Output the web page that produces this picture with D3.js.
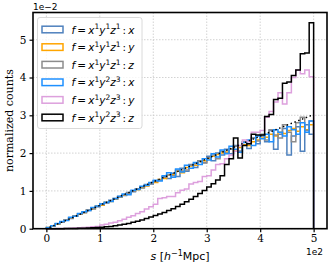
<!DOCTYPE html>
<html lang="en">
<head>
<meta charset="utf-8">
<title>pair separation histograms</title>
<script src="https://cdn.jsdelivr.net/npm/d3@7"></script>
<style>
  body { margin: 0; background: #fff; }
  svg text { fill: #000; }
</style>
</head>
<body>
<script>
    // histogram heights (units of 1e-2), 60 bins over 0..500 h^-1 Mpc
    var n_bins = 60;
    var s_max = 500;

    var x1y1z1_x = [0.02,0.08,0.13,0.18,0.24,0.27,0.34,0.38,0.44,0.48,0.55,0.58,
        0.65,0.68,0.75,0.78,0.86,0.88,0.96,0.98,1.06,1.08,1.17,1.18,
        1.27,1.29,1.38,1.33,1.47,1.38,1.60,1.52,1.70,1.62,1.80,1.75,
        1.92,1.80,2.00,1.95,2.10,1.98,2.20,2.05,2.30,2.12,2.40,2.25,
        2.45,2.30,2.60,2.10,2.50,2.65,1.95,2.45,2.70,2.05,2.75,2.50];
    var x1y1z1_y = [0.03,0.07,0.12,0.18,0.23,0.29,0.33,0.38,0.43,0.49,0.53,0.60,
        0.62,0.70,0.72,0.79,0.83,0.89,0.93,1.00,1.03,1.09,1.13,1.20,
        1.22,1.30,1.33,1.42,1.43,1.52,1.48,1.62,1.66,1.68,1.78,1.80,
        1.85,1.92,1.96,2.00,2.03,2.10,2.05,2.15,2.22,2.20,2.30,2.35,
        2.40,2.42,2.50,2.45,2.55,2.52,2.60,2.65,2.58,2.70,2.62,2.75];
    var x1y1z1_z = [0.02,0.08,0.13,0.17,0.24,0.28,0.33,0.39,0.42,0.50,0.52,0.59,
        0.64,0.69,0.74,0.80,0.84,0.90,0.94,0.99,1.05,1.10,1.14,1.19,
        1.25,1.28,1.36,1.42,1.40,1.55,1.52,1.55,1.68,1.72,1.78,1.74,
        1.88,1.95,1.85,2.05,2.00,2.10,2.18,2.05,2.30,2.25,2.40,2.32,
        2.50,2.35,2.62,2.48,2.40,2.75,2.55,2.30,2.80,2.95,2.60,2.85];
    var x1y2z3_x = [0.03,0.08,0.14,0.19,0.22,0.30,0.33,0.40,0.45,0.48,0.56,0.60,
        0.66,0.70,0.72,0.80,0.85,0.92,0.90,1.02,1.04,1.12,1.15,1.22,
        1.28,1.26,1.40,1.48,1.36,1.58,1.50,1.68,1.60,1.75,1.70,1.85,
        1.82,1.98,1.90,2.08,1.98,2.18,2.10,2.02,2.28,2.35,2.20,2.45,
        2.38,2.50,2.30,2.62,2.55,2.45,2.70,2.62,2.50,2.80,2.55,2.85];
    var x1y2z3_y = [0,0,0.002,0.005,0.008,0.012,0.017,0.023,0.03,0.04,0.05,0.06,
        0.10,0.12,0.15,0.17,0.21,0.25,0.30,0.34,0.40,0.45,0.52,0.58,
        0.65,0.80,0.82,0.85,0.85,0.95,1.02,1.05,1.18,1.22,1.25,1.38,
        1.40,1.55,1.70,1.72,1.85,1.95,2.05,2.20,2.35,2.30,2.55,2.55,
        2.60,2.95,3.10,3.35,3.60,3.30,3.60,4.00,4.20,4.10,4.20,4.02];
    var x1y2z3_z = [0,0,0,0.001,0.002,0.004,0.006,0.009,0.013,0.018,0.024,0.031,
        0.04,0.05,0.06,0.08,0.10,0.12,0.14,0.17,0.20,0.23,0.27,0.31,
        0.35,0.39,0.43,0.48,0.53,0.59,0.65,0.71,0.78,0.85,0.93,1.01,
        1.10,1.19,1.29,1.40,1.70,1.85,2.40,1.87,2.20,2.25,2.50,2.48,
        2.48,2.97,3.02,3.42,3.45,3.85,3.88,4.05,4.20,4.63,4.65,5.45];

    // expected curve (dotted)
    var model_s = [0, 50, 100, 150, 200, 250, 300, 350, 400, 450, 500];
    var model_v = [0, 0.30, 0.62, 0.93, 1.24, 1.54, 1.85, 2.15, 2.45, 2.74, 3.02];

    var series = [
        {key: "1", sup: ["1", "1", "1"], ax: "x", vals: x1y1z1_x, color: "#4f81bd"},
        {key: "2", sup: ["1", "1", "1"], ax: "y", vals: x1y1z1_y, color: "#ffa500"},
        {key: "3", sup: ["1", "1", "1"], ax: "z", vals: x1y1z1_z, color: "#8c8c8c"},
        {key: "4", sup: ["1", "2", "3"], ax: "x", vals: x1y2z3_x, color: "#1e90ff"},
        {key: "5", sup: ["1", "2", "3"], ax: "y", vals: x1y2z3_y, color: "#dda0dd"},
        {key: "6", sup: ["1", "2", "3"], ax: "z", vals: x1y2z3_z, color: "#000000"}
    ];

    var W = 332, H = 268;
    var pLeft = 33, pRight = 327, pTop = 12.5, pBottom = 228.7;

    var svg = d3.select("body").append("svg")
        .attr("width", W)
        .attr("height", H);

    var x = d3.scaleLinear().domain([-25, 525]).range([pLeft, pRight]);
    var y = d3.scaleLinear().domain([0, 5.72]).range([pBottom, pTop]);

    var ticks = [0, 1, 2, 3, 4, 5];

    // grid
    svg.append("g").selectAll("line")
        .data(ticks)
        .enter().append("line")
        .attr("x1", d => x(d * 100)).attr("x2", d => x(d * 100))
        .attr("y1", pTop).attr("y2", pBottom)
        .attr("stroke", "#c8c8c8").attr("stroke-width", 0.8)
        .attr("stroke-dasharray", "1.5,1.5");
    svg.append("g").selectAll("line")
        .data(ticks)
        .enter().append("line")
        .attr("x1", pLeft).attr("x2", pRight)
        .attr("y1", d => y(d)).attr("y2", d => y(d))
        .attr("stroke", "#c8c8c8").attr("stroke-width", 0.8)
        .attr("stroke-dasharray", "1.5,1.5");

    var edges = d3.range(n_bins + 1).map(i => i * s_max / n_bins);
    var line = d3.line().x(d => x(d[0])).y(d => y(d[1]));

    function step_points(vals) {
        var pts = [[0, 0]];
        vals.forEach(function (v, i) {
            pts.push([edges[i], v]);
            pts.push([edges[i + 1], v]);
        });
        pts.push([s_max, 0]);
        return pts;
    }

    var plot = svg.append("g");
    plot.selectAll("path")
        .data(series, d => d.key)
        .enter().append("path")
        .attr("d", d => line(step_points(d.vals)))
        .attr("fill", "none")
        .attr("stroke", d => d.color)
        .attr("stroke-width", 1.5)
        .attr("stroke-linejoin", "miter");

    plot.append("path")
        .attr("d", line(model_s.map((s, i) => [s, model_v[i]])))
        .attr("fill", "none")
        .attr("stroke", "#000")
        .attr("stroke-width", 1.6)
        .attr("stroke-linecap", "round")
        .attr("stroke-dasharray", "0.1,4");

    // axes
    var xAxis = d3.axisBottom(x).tickValues(ticks.map(d => d * 100))
        .tickFormat(d => d / 100).tickSize(3.5).tickPadding(2.5);
    var yAxis = d3.axisLeft(y).tickValues(ticks)
        .tickFormat(d => d).tickSize(3.5).tickPadding(3);

    var gx = svg.append("g").attr("transform", "translate(0," + pBottom + ")").call(xAxis);
    var gy = svg.append("g").attr("transform", "translate(" + pLeft + ",0)").call(yAxis);
    [gx, gy].forEach(function (g) {
        g.select(".domain").remove();
        g.selectAll("line").attr("stroke", "#000").attr("stroke-width", 1.2);
        g.selectAll("text")
            .style("font-family", "'DejaVu Serif', serif")
            .style("font-size", "10.5px");
    });

    svg.append("rect")
        .attr("x", pLeft).attr("y", pTop)
        .attr("width", pRight - pLeft).attr("height", pBottom - pTop)
        .attr("fill", "none").attr("stroke", "#000").attr("stroke-width", 1.6);

    // offset labels
    svg.append("text").attr("x", pLeft).attr("y", 10)
        .style("font-family", "'DejaVu Sans', sans-serif").style("font-size", "9px")
        .text("1e\u22122");
    svg.append("text").attr("x", 323).attr("y", 255).attr("text-anchor", "end")
        .style("font-family", "'DejaVu Sans', sans-serif").style("font-size", "9px")
        .text("1e2");

    // axis titles
    svg.append("text")
        .attr("transform", "translate(13," + ((pTop + pBottom) / 2) + ") rotate(-90)")
        .attr("text-anchor", "middle")
        .style("font-family", "'DejaVu Serif', serif").style("font-size", "11px")
        .text("normalized counts");

    var xl = svg.append("text")
        .attr("x", (pLeft + pRight) / 2).attr("y", 260)
        .attr("text-anchor", "middle")
        .style("font-family", "'DejaVu Sans', sans-serif").style("font-size", "11px");
    xl.append("tspan").style("font-style", "italic").text("s");
    xl.append("tspan").text(" [");
    xl.append("tspan").style("font-style", "italic").text("h");
    xl.append("tspan").attr("dy", -4).style("font-size", "8px").text("\u22121");
    xl.append("tspan").attr("dy", 4).text("Mpc]");

    // legend
    var lg = svg.append("g");
    lg.append("rect")
        .attr("x", 37.5).attr("y", 17.5).attr("width", 104.5).attr("height", 111)
        .attr("rx", 2.5)
        .attr("fill", "#fff").attr("fill-opacity", 0.8)
        .attr("stroke", "#d0d0d0").attr("stroke-width", 0.8);

    var rows = lg.selectAll("g")
        .data(series, d => d.key)
        .enter().append("g")
        .attr("transform", (d, i) => "translate(0," + (29.5 + i * 17.6) + ")");
    rows.append("rect")
        .attr("x", 42).attr("y", -3.3).attr("width", 21).attr("height", 6.6)
        .attr("fill", "none").attr("stroke", d => d.color).attr("stroke-width", 1.5);

    var lt = rows.append("text")
        .attr("x", 71.5).attr("y", 4)
        .style("font-family", "'DejaVu Sans', sans-serif").style("font-size", "10.5px");
    lt.each(function (d) {
        var t = d3.select(this);
        // [text, italic, superscript]
        var parts = [["f", true, false], ["\u2009=\u2009", false, false]];
        ["x", "y", "z"].forEach(function (v, k) {
            parts.push([v, true, false]);
            parts.push([d.sup[k], false, true]);
        });
        parts.push(["\u2009:\u2009", false, false]);
        parts.push([d.ax, true, false]);
        var raised = false;
        parts.forEach(function (p) {
            var ts = t.append("tspan").text(p[0]);
            if (p[1]) ts.style("font-style", "italic");
            if (p[2]) ts.style("font-size", "7.5px");
            if (p[2] && !raised) { ts.attr("dy", -4.2); raised = true; }
            else if (!p[2] && raised) { ts.attr("dy", 4.2); raised = false; }
        });
    });
</script>
</body>
</html>
